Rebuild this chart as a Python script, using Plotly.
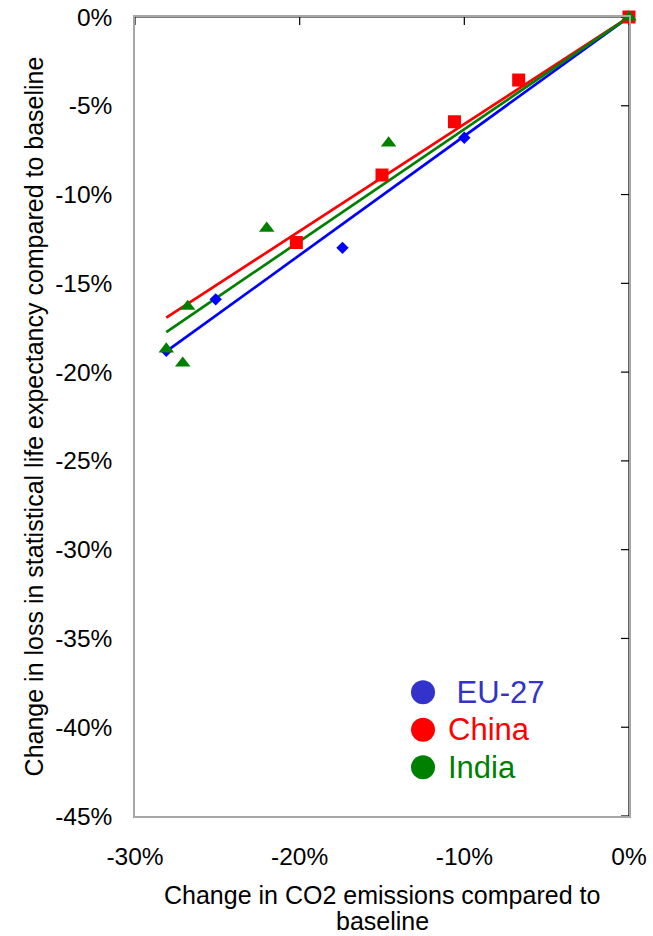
import numpy as np
import plotly.graph_objects as go

# values in percent
eu_x = [0, -10.0, -17.4, -25.1, -28.1]
eu_y = [0, -6.8, -13.0, -15.9, -18.8]
china_x = [0, -6.7, -10.6, -15.0, -20.2]
china_y = [0, -3.55, -5.9, -8.9, -12.7]
india_x = [0, -14.6, -22.0, -26.8, -28.1, -27.1]
india_y = [0, -7.1, -11.9, -16.3, -18.7, -19.5]

trend_x = [-28.1, 0]
x_ticks = [-30, -20, -10, 0]
y_ticks = [0, -5, -10, -15, -20, -25, -30, -35, -40, -45]

series = [
    ("EU-27", eu_x, eu_y, "#0000ff", "diamond", 9.5, "#3333cc"),
    ("China", china_x, china_y, "#ff0000", "square", 13, "#ff0000"),
    ("India", india_x, india_y, "#008000", "triangle-up", 13.5, "#008000"),
]

FONT = "Liberation Sans, Arial, sans-serif"

fig = go.Figure()

# trendlines (linear, through origin) first, then the markers on top
for name, xs, ys, col, sym, size, lcol in series:
    x = np.array(xs, dtype=float)
    y = np.array(ys, dtype=float)
    slope = (x * y).sum() / (x * x).sum()
    tx = np.array(trend_x, dtype=float)
    fig.add_trace(go.Scatter(x=tx, y=slope * tx, mode="lines",
                             line=dict(color=col, width=2.7),
                             showlegend=False, hoverinfo="skip", cliponaxis=False))

for name, xs, ys, col, sym, size, lcol in series:
    fig.add_trace(go.Scatter(x=xs, y=ys, mode="markers", name=name,
                             marker=dict(color=col, symbol=sym, size=size, line_width=0),
                             showlegend=False, cliponaxis=False))

shapes = []
# black axes crossing at the origin (top and right edges)
shapes.append(dict(type="line", xref="x", yref="y", x0=-30, x1=0, y0=0, y1=0,
                   line=dict(color="black", width=1.2), layer="below"))
shapes.append(dict(type="line", xref="x", yref="y", x0=0, x1=0, y0=-45, y1=0,
                   line=dict(color="#333333", width=1.5), layer="below"))
for v in x_ticks:
    shapes.append(dict(type="line", xref="x", yref="y", x0=v, x1=v,
                       ysizemode="pixel", yanchor=0, y0=-8, y1=8,
                       line=dict(color="black", width=1.2), layer="below"))
for v in y_ticks:
    shapes.append(dict(type="line", xref="x", yref="y", y0=v, y1=v,
                       xsizemode="pixel", xanchor=0, x0=-8, x1=8,
                       line=dict(color="black", width=1.2), layer="below"))

# legend: big dots + coloured labels
legend_y = [0.155, 0.108, 0.061]
annotations = []
for (name, xs, ys, col, sym, size, lcol), ly in zip(series, legend_y):
    shapes.append(dict(type="circle", xref="paper", yref="paper",
                       xsizemode="pixel", ysizemode="pixel",
                       xanchor=0.583, yanchor=ly, x0=-12, x1=12, y0=-12, y1=12,
                       fillcolor=lcol, line_width=0))
    label = " " + name if name == "EU-27" else name
    annotations.append(dict(xref="paper", yref="paper", x=0.630, y=ly,
                            xanchor="left", yanchor="middle", showarrow=False,
                            text=label, font=dict(size=31, color=lcol, family=FONT)))

# x axis title as two centred annotation lines
x_title = ["Change in CO2 emissions compared to", "baseline"]
for txt, ty in zip(x_title, [-0.099, -0.131]):
    annotations.append(dict(xref="paper", yref="paper", x=0.5, y=ty,
                            xanchor="center", yanchor="middle", showarrow=False,
                            text=txt, font=dict(size=25, color="black", family=FONT)))

fig.update_layout(
    width=653, height=936,
    margin=dict(l=135, r=24, t=17, b=120),
    paper_bgcolor="white", plot_bgcolor="white",
    font=dict(family=FONT, size=24.5, color="black"),
    shapes=shapes, annotations=annotations,
    showlegend=False,
)
fig.update_xaxes(
    range=[-30, 0], tickvals=x_ticks, ticktext=[f"{v}%" for v in x_ticks],
    showgrid=False, zeroline=False, ticks="", automargin=False,
    showline=True, linecolor="#a6a6a6", linewidth=1.5, mirror=True,
    ticklabelstandoff=18,
)
fig.update_yaxes(
    range=[-45, 0], tickvals=y_ticks, ticktext=[f"{v}%" for v in y_ticks],
    showgrid=False, zeroline=False, ticks="", automargin=False,
    showline=True, linecolor="#a6a6a6", linewidth=1.5, mirror=True,
    ticklabelstandoff=16,
    title=dict(text="Change in loss in statistical life expectancy compared to baseline",
               font=dict(size=25), standoff=4),
)

# drop the page's default body margin so the chart sits at the window's corner
fig.write_html("out.html", config={"displayModeBar": False},
               post_script="document.body.style.margin='0';")
